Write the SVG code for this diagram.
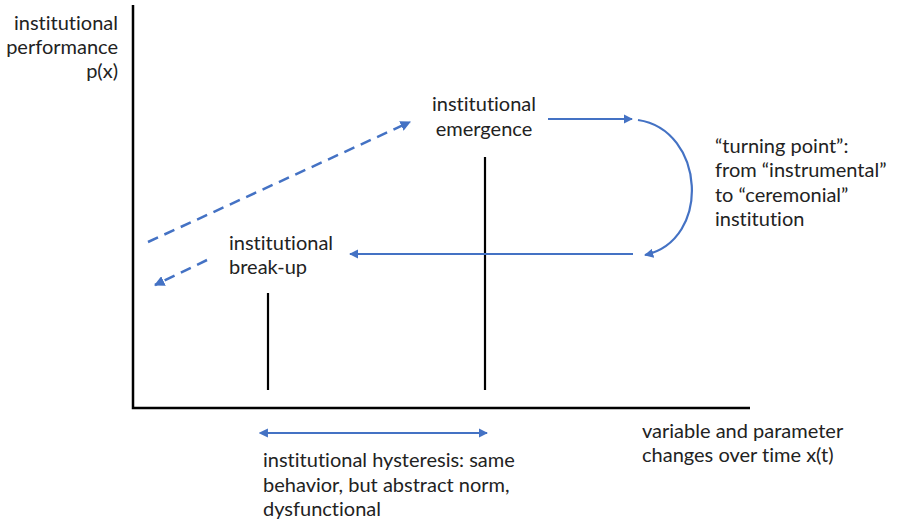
<svg xmlns="http://www.w3.org/2000/svg" width="897" height="523" viewBox="0 0 897 523">
<defs>
<style>
text{font-family:Lato,"Open Sans","Liberation Sans",sans-serif;font-size:20px;fill:#222;font-variant-ligatures:none;font-feature-settings:"liga" 0}
.ax{stroke:#000;stroke-width:2.5;fill:none}
.bl{stroke:#000;stroke-width:2.2;fill:none}
.ar{stroke:#4472C4;stroke-width:2.2;fill:none}
.da{stroke:#4472C4;stroke-width:2.5;fill:none;stroke-dasharray:11 7}
</style>
<marker id="ah" viewBox="0 0 10 10" refX="9" refY="5" markerWidth="4.2" markerHeight="4.2" orient="auto" markerUnits="strokeWidth"><path d="M0,0L10,5L0,10z" fill="#4472C4"/></marker>
<marker id="ahs" viewBox="0 0 10 10" refX="1" refY="5" markerWidth="4.2" markerHeight="4.2" orient="auto-start-reverse" markerUnits="strokeWidth"><path d="M0,0L10,5L0,10z" fill="#4472C4"/></marker>
</defs>
<g id="axes">
<path class="ax" d="M133,5V408H750"/>
</g>
<g id="connectors">
<path class="bl" d="M485,157V390"/>
<path class="bl" d="M268,293V390"/>
<path class="ar" d="M548,119H632" marker-end="url(#ah)"/>
<path class="ar" d="M638,120C705,130 712,240 645,255" marker-end="url(#ah)"/>
<path class="ar" d="M633,254H350" marker-end="url(#ah)"/>
<path class="da" d="M148,242L410,122" marker-end="url(#ah)"/>
<path class="da" d="M207,260L155,285" marker-end="url(#ah)"/>
<path class="ar" d="M267,433H487" marker-start="url(#ahs)" marker-end="url(#ah)"/>
</g>
<g id="y-label">
<text x="118" y="30" text-anchor="end">institutional</text>
<text x="118" y="54" text-anchor="end">performance</text>
<text x="118" y="78" text-anchor="end">p(x)</text>
</g>
<g id="emergence">
<text x="484" y="111" text-anchor="middle">institutional</text>
<text x="484" y="136" text-anchor="middle">emergence</text>
</g>
<g id="breakup">
<text x="229" y="250">institutional</text>
<text x="229" y="274">break-up</text>
</g>
<g id="turning-point">
<text x="715" y="153">“turning point”:</text>
<text x="715" y="177">from “instrumental”</text>
<text x="715" y="202">to “ceremonial”</text>
<text x="715" y="226">institution</text>
</g>
<g id="x-label">
<text x="642" y="438">variable and parameter</text>
<text x="642" y="462">changes over time x(t)</text>
</g>
<g id="hysteresis">
<text x="263" y="467">institutional hysteresis: same</text>
<text x="263" y="492">behavior, but abstract norm,</text>
<text x="263" y="516">dysfunctional</text>
</g>
</svg>
